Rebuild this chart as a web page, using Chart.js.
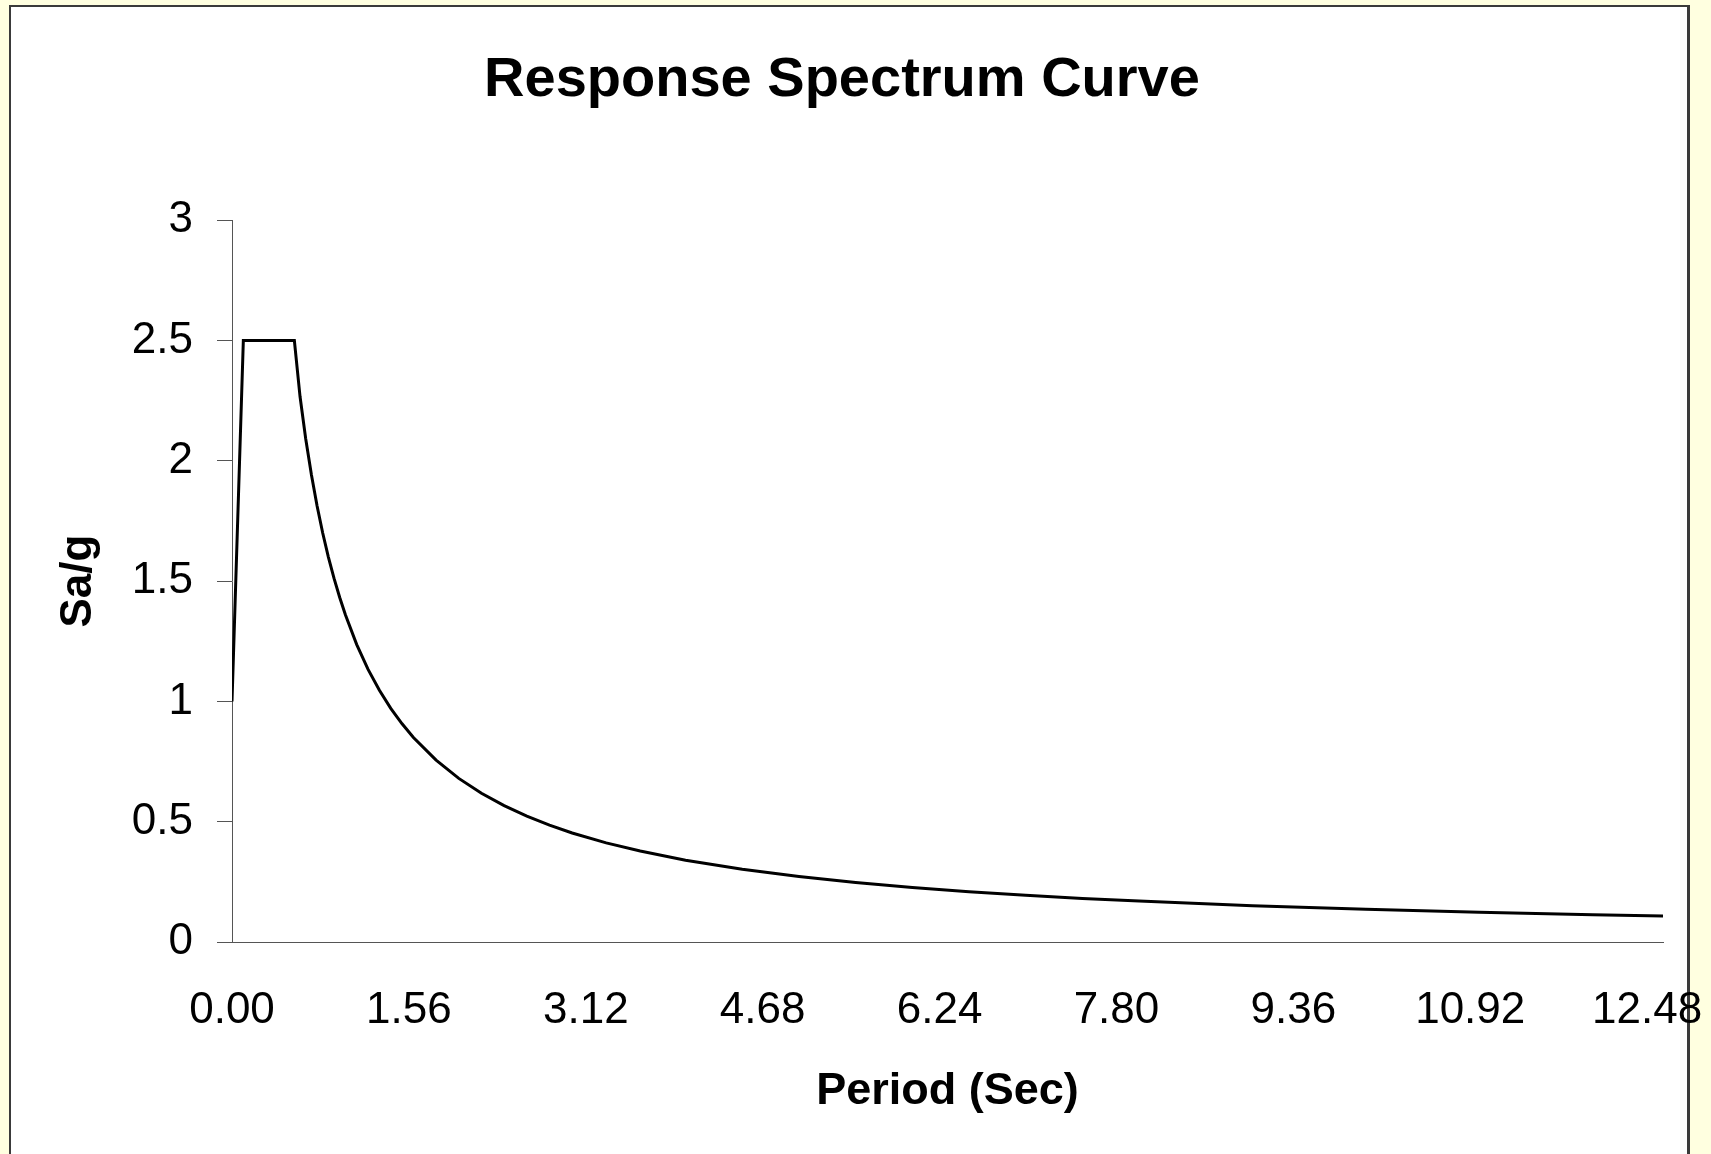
<!DOCTYPE html>
<html>
<head>
<meta charset="utf-8">
<title>Response Spectrum Curve</title>
<script src="https://cdn.jsdelivr.net/npm/chart.js@4/dist/chart.umd.min.js"></script>
<style>
    html, body {
        margin: 0;
        padding: 0;
        width: 1711px;
        height: 1154px;
        overflow: hidden;
        background: #FFFFE0;
    }
    #frame {
        position: absolute;
        left: 9px;
        top: 5px;
        width: 1681px;
        height: 1200px;
        box-sizing: border-box;
        background: #fff;
        border: 2px solid #3a3a3a;
        border-right-width: 3px;
    }
    #myChart {
        position: absolute;
        left: 0;
        top: 0;
    }
</style>
</head>
<body>
<div id="frame"></div>
<canvas id="myChart" width="1711" height="1154"></canvas>
<script>
// period T (sec) and spectral acceleration Sa/g
const periods = [0, 0.10, 0.55, 0.60, 0.65, 0.70, 0.75, 0.80, 0.85, 0.90, 0.95, 1.00,
    1.10, 1.20, 1.30, 1.40, 1.50, 1.60, 1.80, 2.00, 2.20, 2.40, 2.60, 2.80, 3.00,
    3.30, 3.60, 4.00, 4.50, 5.00, 5.50, 6.00, 6.50, 7.00, 7.50, 8.00, 9.00, 10.00,
    11.00, 12.00, 12.62];
const saValues = [1.00, 2.50, 2.50, 2.267, 2.092, 1.943, 1.813, 1.700, 1.600, 1.511, 1.432, 1.360,
    1.236, 1.133, 1.046, 0.971, 0.907, 0.850, 0.756, 0.680, 0.618, 0.567, 0.523, 0.486, 0.453,
    0.412, 0.378, 0.340, 0.302, 0.272, 0.247, 0.227, 0.209, 0.194, 0.181, 0.170, 0.151, 0.136,
    0.124, 0.113, 0.108];
const xTickValues = [0, 1.56, 3.12, 4.68, 6.24, 7.80, 9.36, 10.92, 12.48];
const xMax = 12.62;

const fontFamily = "'Liberation Sans', Arial, sans-serif";

const points = periods.map((t, i) => ({ x: t, y: saValues[i] }));

const ctx = document.getElementById('myChart').getContext('2d');

const chartInstance = new Chart(ctx, {
    type: 'line',
    data: {
        datasets: [{
            label: 'Sa/g',
            data: points,
            borderColor: '#000',
            borderWidth: 3,
            pointRadius: 0,
            fill: false,
            tension: 0
        }]
    },
    options: {
        responsive: false,
        animation: false,
        layout: {
            padding: { left: 21, right: 48, top: 0, bottom: 0 }
        },
        scales: {
            x: {
                type: 'linear',
                min: 0,
                max: xMax,
                afterBuildTicks: (scale) => {
                    scale.ticks = xTickValues.map(v => ({ value: v }));
                },
                afterFit: (scale) => {
                    scale.height = 212;
                    // let the last label hang over the frame like the original
                    scale.paddingLeft = 0;
                    scale.paddingRight = 0;
                },
                grid: {
                    display: false,
                    drawTicks: false
                },
                border: {
                    display: true,
                    color: '#555',
                    width: 1
                },
                ticks: {
                    autoSkip: false,
                    maxRotation: 0,
                    padding: 42,
                    color: '#000',
                    font: { family: fontFamily, size: 44 },
                    callback: (value) => Number(value).toFixed(2)
                },
                title: {
                    display: true,
                    text: 'Period (Sec)',
                    color: '#000',
                    font: { family: fontFamily, size: 45, weight: 'bold' },
                    padding: { top: 0, bottom: 35 }
                }
            },
            y: {
                min: 0,
                max: 3,
                afterFit: (scale) => {
                    scale.width = 211;
                },
                grid: {
                    display: true,
                    drawOnChartArea: false,
                    drawTicks: true,
                    tickLength: 15,
                    color: '#555',
                    lineWidth: 1
                },
                border: {
                    display: true,
                    color: '#555',
                    width: 1
                },
                ticks: {
                    stepSize: 0.5,
                    padding: 24,
                    color: '#000',
                    font: { family: fontFamily, size: 44 },
                    callback: (value) => String(Number(value))
                },
                title: {
                    display: true,
                    text: 'Sa/g',
                    color: '#000',
                    font: { family: fontFamily, size: 44, weight: 'bold' },
                    padding: { top: 31, bottom: 0 }
                }
            }
        },
        plugins: {
            legend: { display: false },
            tooltip: { enabled: false },
            title: {
                display: true,
                text: 'Response Spectrum Curve',
                color: '#000',
                font: { family: fontFamily, size: 56, weight: 'bold' },
                padding: { top: 47, bottom: 106 }
            }
        }
    }
});
</script>
</body>
</html>
